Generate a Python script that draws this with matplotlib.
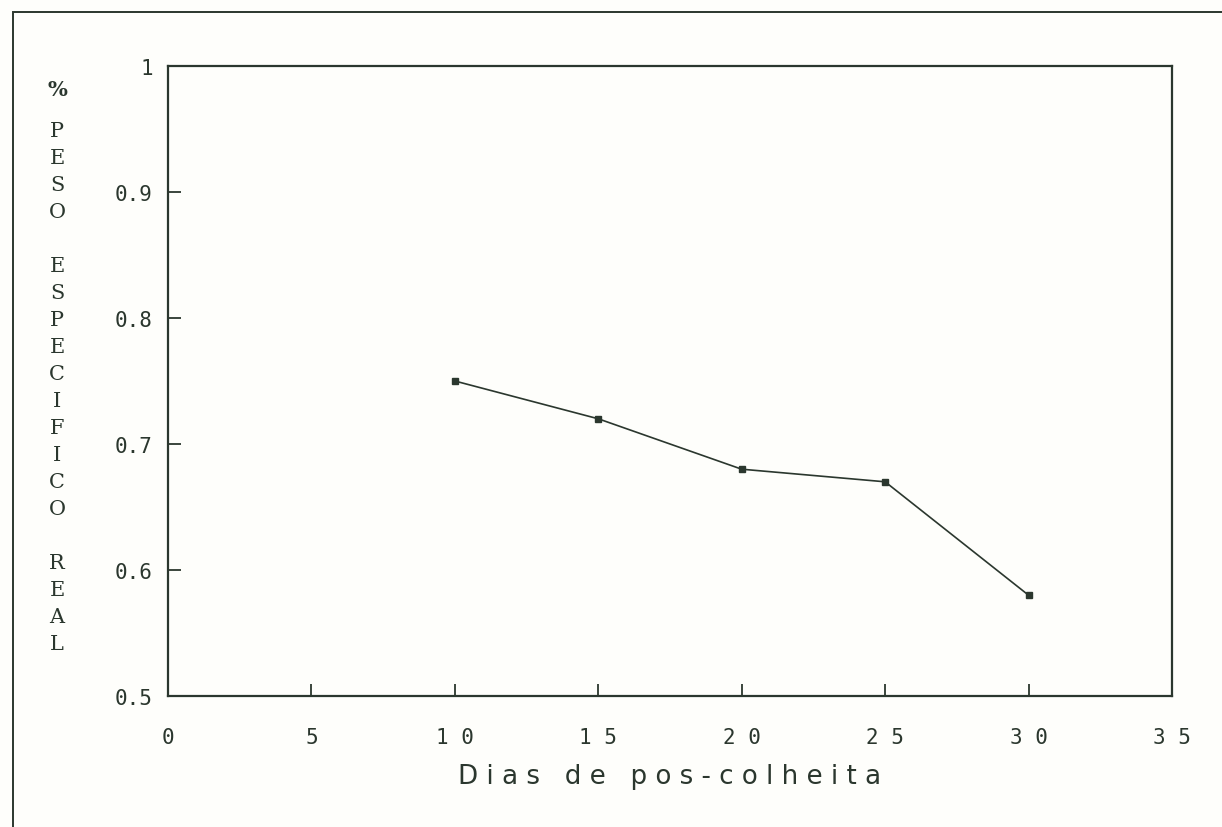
import matplotlib.pyplot as plt
from matplotlib.patches import Rectangle

# dados
dias = [10, 15, 20, 25, 30]
peso_especifico = [0.75, 0.72, 0.68, 0.67, 0.58]

x_ticks = [0, 5, 10, 15, 20, 25, 30, 35]
x_tick_labels = ['0', '5', '1 0', '1 5', '2 0', '2 5', '3 0', '3 5']
y_ticks = [0.5, 0.6, 0.7, 0.8, 0.9, 1.0]
y_tick_labels = ['0.5', '0.6', '0.7', '0.8', '0.9', '1']

ink = '#2b372e'
paper = '#fefefb'

fig = plt.figure(figsize=(12.22, 8.28), dpi=100, facecolor=paper)
ax = fig.add_axes([168 / 1222, 1 - 697 / 828, (1172 - 168) / 1222, (697 - 67) / 828])
ax.set_facecolor(paper)

# moldura externa (so aparecem topo e esquerda)
fig.patches.append(Rectangle((13 / 1222, -0.1), 1.2, 1 - 13 / 828 + 0.1,
                             transform=fig.transFigure, fill=False,
                             edgecolor=ink, linewidth=1.4))

ax.plot(dias, peso_especifico, color=ink, linewidth=1.2,
        marker='s', markersize=5, markerfacecolor=ink, markeredgecolor=ink)

ax.set_xlim(0, 35)
ax.set_ylim(0.5, 1.0)
ax.set_xticks(x_ticks)
ax.set_xticklabels(x_tick_labels, fontfamily='DejaVu Sans Mono', fontsize=15, color=ink)
ax.set_yticks(y_ticks)
ax.set_yticklabels(y_tick_labels, fontfamily='DejaVu Sans Mono', fontsize=15, color=ink)
ax.tick_params(axis='x', direction='in', length=9, width=1.3, color=ink, pad=22,
               top=False)
ax.tick_params(axis='y', direction='in', length=9, width=1.3, color=ink, pad=11,
               right=False)
ax.xaxis.set_ticks_position('bottom')
ax.yaxis.set_ticks_position('left')
for sp in ax.spines.values():
    sp.set_color(ink)
    sp.set_linewidth(1.6)

ax.set_xlabel('D i a s   d e   p o s - c o l h e i t a', fontfamily='DejaVu Sans',
              fontsize=18.8, color=ink, labelpad=12)

# rotulo vertical empilhado
fig.text(57 / 1222, 1 - 80 / 828, '%', fontfamily='DejaVu Serif', fontsize=15,
         fontweight='bold', color=ink, ha='center', va='top')
ylab = 'P\nE\nS\nO\n\nE\nS\nP\nE\nC\nI\nF\nI\nC\nO\n\nR\nE\nA\nL'
fig.text(57 / 1222, 1 - 122 / 828, ylab, fontfamily='DejaVu Serif', fontsize=15,
         color=ink, ha='center', va='top', linespacing=1.535)

fig.savefig('out.png', dpi=100, facecolor=paper)
